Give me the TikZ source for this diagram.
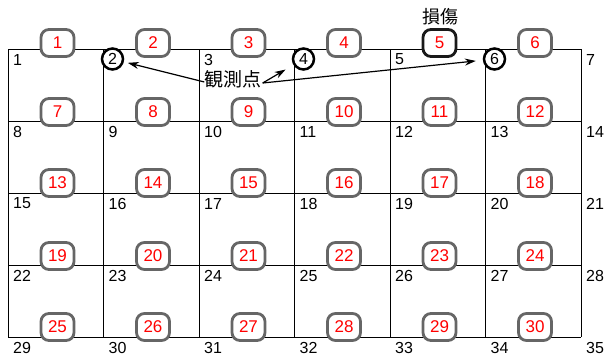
\documentclass[tikz,border=0pt]{standalone}
\usepackage{fontspec}
\setmainfont{Liberation Sans}
\newfontfamily\jpfont{Noto Sans CJK JP}
\usetikzlibrary{arrows.meta}
\begin{document}
\begin{tikzpicture}[x=1pt,y=-1pt,
  gridline/.style={line width=0.9pt, draw=black},
  elem/.style={draw=black!60, line width=2.8pt, rounded corners=8pt, fill=white,
    minimum width=33pt, minimum height=27pt, text=red, inner sep=0pt,
    font=\fontsize{17}{17}\selectfont},
  dmgelem/.style={elem, draw=black!90},
  nodenum/.style={anchor=west, inner sep=0pt, font=\fontsize{16}{16}\selectfont},
  obspt/.style={circle, draw=black, line width=2.5pt, fill=white, minimum size=21pt,
    inner sep=0pt, font=\fontsize{16}{16}\selectfont},
  jplabel/.style={inner sep=0pt, font=\jpfont\fontsize{19}{19}\selectfont},
  callout/.style={-{Stealth[length=11pt,width=7pt]}, line width=1.2pt, shorten >=4pt}]
\useasboundingbox (0,0) rectangle (608,356);
% grid
\foreach \i in {0,...,6} {
  \draw[gridline] ({8+95.5*\i},49) -- ({8+95.5*\i},337);
}
\foreach \k in {0,...,4} {
  \draw[gridline] (8,{49+72*\k}) -- (581,{49+72*\k});
}
% node numbers
\foreach \r in {0,...,4} {
  \foreach \c in {0,...,6} {
    \pgfmathtruncatemacro{\n}{7*\r+\c+1}
    \pgfmathtruncatemacro{\skip}{(\r==0) && (\c==1 || \c==3 || \c==5) ? 1 : 0}
    \ifnum\skip=0
      \node[nodenum] (n\n) at ({8+95.5*\c+5},{49+72*\r+10.5}) {\n};
    \fi
  }
}
% observation points
\node[obspt] (c2) at ({8+95.5*1+9},59) {2};
\node[obspt] (c4) at ({8+95.5*3+9},59) {4};
\node[obspt] (c6) at ({8+95.5*5+9},59) {6};
% elements
\foreach \k/\yy in {0/43,1/112,2/183,3/256,4/327} {
  \foreach \j in {0,...,5} {
    \pgfmathtruncatemacro{\e}{6*\k+\j+1}
    \ifnum\e=5
      \node[dmgelem] (e\e) at ({8+95.5*\j+49.5},\yy) {\e};
    \else
      \node[elem] (e\e) at ({8+95.5*\j+49.5},\yy) {\e};
    \fi
  }
}
% labels
\node[jplabel] (obs) at (233,79) {観測点};
\node[jplabel, font=\jpfont\fontsize{18}{18}\selectfont] (dmg) at (440,17) {損傷};
% callouts
\draw[callout] ([yshift=-3pt]obs.west) -- (c2);
\draw[callout, shorten >=9pt] ([xshift=1pt,yshift=-4pt]obs.east) -- (c4);
\draw[callout, shorten >=7pt] ([xshift=1pt,yshift=-4pt]obs.east) -- (c6);
\end{tikzpicture}
\end{document}
